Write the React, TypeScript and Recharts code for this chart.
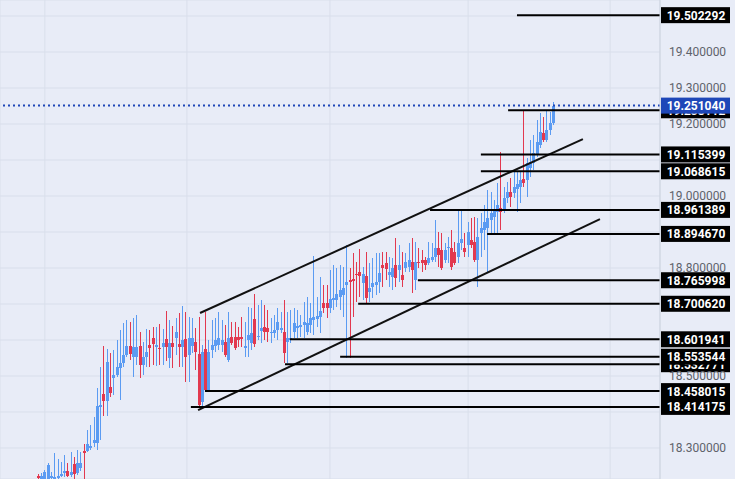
import React from "react";
import {
  ComposedChart,
  Bar,
  XAxis,
  YAxis,
  CartesianGrid,
  ReferenceLine,
  ReferenceDot,
} from "recharts";

// USD/MXN style candles, TradingView look: light lavender pane, blue/red candles
const BG = "#e8ecf7";
const GRID = "#d9dfeb";
const UP = "#5b9bf2";
const DOWN = "#e2384f";
const LAST = "#1e47b8";

const opens = [
  18.222, 18.214, 18.211, 18.214, 18.217, 18.214, 18.217, 18.222, 18.231, 18.236,
  18.225, 18.256, 18.231, 18.244, 18.292, 18.292, 18.3, 18.314, 18.314, 18.414,
  18.45, 18.431, 18.469, 18.494, 18.503, 18.522, 18.536, 18.558, 18.583, 18.553,
  18.553, 18.583, 18.531, 18.553, 18.586, 18.606, 18.581, 18.578, 18.581, 18.603,
  18.55, 18.592, 18.606, 18.589, 18.581, 18.603, 18.558, 18.583, 18.594, 18.561,
  18.428, 18.575, 18.461, 18.572, 18.583, 18.586, 18.586, 18.594, 18.544, 18.608,
  18.608, 18.608, 18.608, 18.578, 18.6, 18.592, 18.658, 18.608, 18.625, 18.636,
  18.633, 18.619, 18.619, 18.628, 18.628, 18.622, 18.594, 18.6, 18.622, 18.633,
  18.636, 18.642, 18.622, 18.642, 18.656, 18.658, 18.664, 18.703, 18.703, 18.689,
  18.711, 18.711, 18.719, 18.725, 18.753, 18.767, 18.769, 18.783, 18.789, 18.758,
  18.778, 18.733, 18.747, 18.753, 18.761, 18.808, 18.814, 18.781, 18.775, 18.808,
  18.794, 18.781, 18.8, 18.803, 18.817, 18.767, 18.817, 18.822, 18.822, 18.814,
  18.822, 18.831, 18.856, 18.85, 18.822, 18.856, 18.856, 18.844, 18.831, 18.869,
  18.856, 18.864, 18.878, 18.872, 18.822, 18.897, 18.906, 18.911, 18.933, 18.942,
  18.955, 18.967, 18.961, 18.994, 19.011, 19.008, 19.019, 19.025, 19.047, 19.044,
  19.078, 19.092, 19.114, 19.142, 19.175, 19.156, 19.183, 19.203,
];

const highs = [
  18.228, 18.231, 18.239, 18.258, 18.233, 18.286, 18.269, 18.261, 18.281, 18.258,
  18.289, 18.275, 18.294, 18.289, 18.311, 18.35, 18.364, 18.386, 18.467, 18.525,
  18.583, 18.575, 18.564, 18.572, 18.6, 18.628, 18.647, 18.656, 18.65, 18.661,
  18.669, 18.622, 18.594, 18.631, 18.628, 18.636, 18.636, 18.644, 18.631, 18.681,
  18.656, 18.639, 18.661, 18.675, 18.694, 18.678, 18.664, 18.661, 18.633, 18.664,
  18.586, 18.678, 18.6, 18.656, 18.661, 18.678, 18.656, 18.642, 18.678, 18.65,
  18.65, 18.636, 18.664, 18.65, 18.692, 18.689, 18.728, 18.697, 18.711, 18.697,
  18.683, 18.661, 18.669, 18.689, 18.678, 18.711, 18.678, 18.683, 18.689, 18.683,
  18.669, 18.706, 18.719, 18.703, 18.833, 18.719, 18.775, 18.753, 18.753, 18.794,
  18.808, 18.8, 18.808, 18.803, 18.864, 18.8, 18.842, 18.817, 18.853, 18.803,
  18.844, 18.814, 18.828, 18.842, 18.842, 18.844, 18.844, 18.831, 18.828, 18.883,
  18.864, 18.844, 18.842, 18.869, 18.883, 18.872, 18.856, 18.85, 18.831, 18.872,
  18.869, 18.933, 18.9, 18.897, 18.869, 18.886, 18.906, 18.872, 18.961, 18.961,
  18.897, 18.928, 18.939, 18.942, 18.939, 18.953, 18.975, 19.017, 19.011, 18.989,
  19.036, 19.122, 19.025, 19.039, 19.05, 19.067, 19.067, 19.067, 19.239, 19.106,
  19.156, 19.169, 19.211, 19.231, 19.219, 19.239, 19.233, 19.261,
];

const lows = [
  18.211, 18.208, 18.206, 18.208, 18.208, 18.208, 18.211, 18.219, 18.219, 18.219,
  18.219, 18.214, 18.225, 18.236, 18.211, 18.289, 18.294, 18.303, 18.294, 18.322,
  18.389, 18.389, 18.442, 18.447, 18.497, 18.433, 18.525, 18.553, 18.544, 18.497,
  18.531, 18.494, 18.503, 18.525, 18.525, 18.531, 18.528, 18.531, 18.531, 18.542,
  18.522, 18.522, 18.558, 18.525, 18.525, 18.483, 18.483, 18.564, 18.517, 18.411,
  18.417, 18.456, 18.458, 18.55, 18.567, 18.572, 18.567, 18.553, 18.539, 18.586,
  18.572, 18.581, 18.581, 18.553, 18.553, 18.572, 18.581, 18.6, 18.592, 18.6,
  18.594, 18.592, 18.606, 18.6, 18.619, 18.536, 18.536, 18.592, 18.606, 18.606,
  18.608, 18.606, 18.614, 18.619, 18.614, 18.636, 18.619, 18.675, 18.661, 18.675,
  18.683, 18.692, 18.683, 18.664, 18.55, 18.55, 18.664, 18.706, 18.719, 18.711,
  18.703, 18.706, 18.717, 18.725, 18.731, 18.747, 18.767, 18.747, 18.739, 18.747,
  18.761, 18.747, 18.789, 18.789, 18.731, 18.739, 18.8, 18.789, 18.794, 18.808,
  18.817, 18.817, 18.803, 18.794, 18.814, 18.814, 18.794, 18.808, 18.814, 18.85,
  18.831, 18.831, 18.856, 18.817, 18.747, 18.831, 18.85, 18.789, 18.897, 18.897,
  18.897, 18.906, 18.953, 18.981, 18.969, 18.994, 18.955, 18.981, 19.025, 18.997,
  19.053, 19.072, 19.108, 19.133, 19.15, 19.15, 19.169, 19.197,
];

const closes = [
  18.217, 18.222, 18.233, 18.253, 18.222, 18.219, 18.222, 18.228, 18.236, 18.222,
  18.233, 18.228, 18.258, 18.258, 18.286, 18.311, 18.306, 18.322, 18.417, 18.419,
  18.431, 18.539, 18.453, 18.503, 18.525, 18.536, 18.558, 18.583, 18.561, 18.581,
  18.581, 18.531, 18.553, 18.567, 18.578, 18.589, 18.586, 18.575, 18.592, 18.581,
  18.592, 18.581, 18.622, 18.581, 18.6, 18.553, 18.606, 18.606, 18.567, 18.419,
  18.567, 18.461, 18.567, 18.586, 18.6, 18.606, 18.6, 18.558, 18.606, 18.592,
  18.578, 18.6, 18.603, 18.583, 18.614, 18.619, 18.589, 18.611, 18.633, 18.622,
  18.622, 18.622, 18.628, 18.65, 18.633, 18.564, 18.606, 18.606, 18.647, 18.639,
  18.642, 18.65, 18.647, 18.661, 18.664, 18.667, 18.681, 18.689, 18.689, 18.714,
  18.717, 18.728, 18.739, 18.744, 18.761, 18.761, 18.764, 18.781, 18.778, 18.783,
  18.717, 18.744, 18.758, 18.761, 18.786, 18.8, 18.797, 18.789, 18.8, 18.772,
  18.808, 18.767, 18.817, 18.822, 18.794, 18.817, 18.814, 18.814, 18.808, 18.828,
  18.831, 18.856, 18.836, 18.8, 18.85, 18.858, 18.803, 18.814, 18.869, 18.881,
  18.844, 18.9, 18.864, 18.822, 18.886, 18.911, 18.928, 18.939, 18.953, 18.961,
  18.975, 18.955, 18.994, 19.011, 18.997, 19.025, 19.033, 19.044, 19.036, 19.092,
  19.094, 19.119, 19.15, 19.178, 19.156, 19.183, 19.203, 19.25104,
];

// horizontal levels: price, label, first candle index where the line starts
const levelValues = [
  19.502292, 19.238112, 19.115399, 19.068615, 18.961389, 18.89467, 18.765998,
  18.70062, 18.601941, 18.532771, 18.553544, 18.458015, 18.414175,
];
const levelLabels = [
  "19.502292", "19.238112", "19.115399", "19.068615", "18.961389", "18.894670",
  "18.765998", "18.700620", "18.601941", "18.532771", "18.553544", "18.458015",
  "18.414175",
];
const levelFrom = [146, 143.3, 135, 135, 119.5, 136.9, 115.8, 97.6, 76.8, 75.3, 92.1, 50.9, 46.6];

const lastPrice = 19.25104;
const lastLabel = "19.251040";

// rising channel, [startIdx, startPrice, endIdx, endPrice]
const channelTop = [49.4, 18.675, 166.1, 19.158];
const channelBottom = [48.8, 18.405, 171.3, 18.936];

const priceTicks = [
  18.2, 18.3, 18.4, 18.5, 18.6, 18.7, 18.8, 18.9, 19.0, 19.1, 19.2, 19.3, 19.4, 19.5,
];
const priceTicksShown = [18.3, 18.5, 18.8, 19.0, 19.2, 19.3, 19.4];
const timeGrid = [2.1, 45.4, 89.0, 131.1, 174.4];

const X_MIN = -11.58;
const X_MAX = 189.6;
const Y_MIN = 18.2139;
const Y_MAX = 19.5444;

const rows = opens.map((o, i) => ({
  i,
  open: o,
  high: highs[i],
  low: lows[i],
  close: closes[i],
  range: [lows[i], highs[i]],
}));

function Candle(props: any) {
  const { x, y, width, height, payload } = props;
  if (!payload || height == null) return <g />;
  const { open, close, high, low } = payload;
  const c = close >= open ? UP : DOWN;
  const k = height / (high - low);
  const top = Math.round(y + (high - Math.max(open, close)) * k);
  const bot = Math.round(y + (high - Math.min(open, close)) * k);
  // snap to whole pixels so thin candles stay crisp
  const mid = Math.round(x + width / 2);
  return (
    <g>
      <line
        x1={mid + 0.5}
        x2={mid + 0.5}
        y1={Math.round(y)}
        y2={Math.round(y + height)}
        stroke={c}
        strokeWidth={1}
      />
      <rect x={mid - 1} y={top} width={3} height={Math.max(1, bot - top)} fill={c} />
    </g>
  );
}

function PriceTick({ x, y, payload }: any) {
  const shown = priceTicksShown.some((v) => Math.abs(v - payload.value) < 1e-6);
  if (!shown) return <g />;
  return (
    <text x={x + 1} y={y} dy={4} fill="#5f636b" fontSize={12} textAnchor="start">
      {Number(payload.value).toFixed(6)}
    </text>
  );
}

function Tag({ cx, cy, text, bg }: any) {
  return (
    <g>
      <rect x={cx + 1} y={cy - 8} width={69} height={16} fill={bg} />
      <text
        x={cx + 36}
        y={cy}
        dy={4.5}
        textAnchor="middle"
        fill="#ffffff"
        fontSize={12}
        fontWeight={700}
      >
        {text}
      </text>
    </g>
  );
}

export default function App() {
  return (
    <div
      style={{
        position: "fixed",
        left: 0,
        top: 0,
        width: 735,
        height: 479,
        background: BG,
        fontFamily: "Roboto, sans-serif",
      }}
    >
      <ComposedChart
        width={735}
        height={479}
        data={rows}
        margin={{ top: 0, right: 0, bottom: 0, left: 0 }}
      >
        <CartesianGrid stroke={GRID} strokeWidth={1} />
        <XAxis
          dataKey="i"
          type="number"
          domain={[X_MIN, X_MAX]}
          ticks={timeGrid}
          allowDataOverflow
          hide
        />
        <YAxis
          orientation="right"
          type="number"
          domain={[Y_MIN, Y_MAX]}
          ticks={priceTicks}
          allowDataOverflow
          width={75}
          tickLine={false}
          axisLine={{ stroke: "#cdd3df" }}
          tick={<PriceTick />}
          interval={0}
        />
        <Bar
          dataKey="range"
          barSize={3}
          shape={<Candle />}
          isAnimationActive={false}
        />
        <ReferenceLine
          y={lastPrice}
          stroke={LAST}
          strokeWidth={2}
          strokeDasharray="2 3"
        />
        <ReferenceLine
          segment={[
            { x: channelTop[0], y: channelTop[1] },
            { x: channelTop[2], y: channelTop[3] },
          ]}
          stroke="#111"
          strokeWidth={2}
        />
        <ReferenceLine
          segment={[
            { x: channelBottom[0], y: channelBottom[1] },
            { x: channelBottom[2], y: channelBottom[3] },
          ]}
          stroke="#111"
          strokeWidth={2}
        />
        {levelValues.map((v, k) => (
          <ReferenceLine
            key={"l" + k}
            segment={[
              { x: levelFrom[k], y: v },
              { x: X_MAX, y: v },
            ]}
            stroke="#000"
            strokeWidth={2}
          />
        ))}
        {levelValues.map((v, k) => (
          <ReferenceDot
            key={"t" + k}
            x={X_MAX}
            y={v}
            r={0}
            shape={(p: any) => <Tag cx={p.cx} cy={p.cy} text={levelLabels[k]} bg="#000" />}
          />
        ))}
        <ReferenceDot
          x={X_MAX}
          y={lastPrice}
          r={0}
          shape={(p: any) => <Tag cx={p.cx} cy={p.cy} text={lastLabel} bg={LAST} />}
        />
      </ComposedChart>
    </div>
  );
}
